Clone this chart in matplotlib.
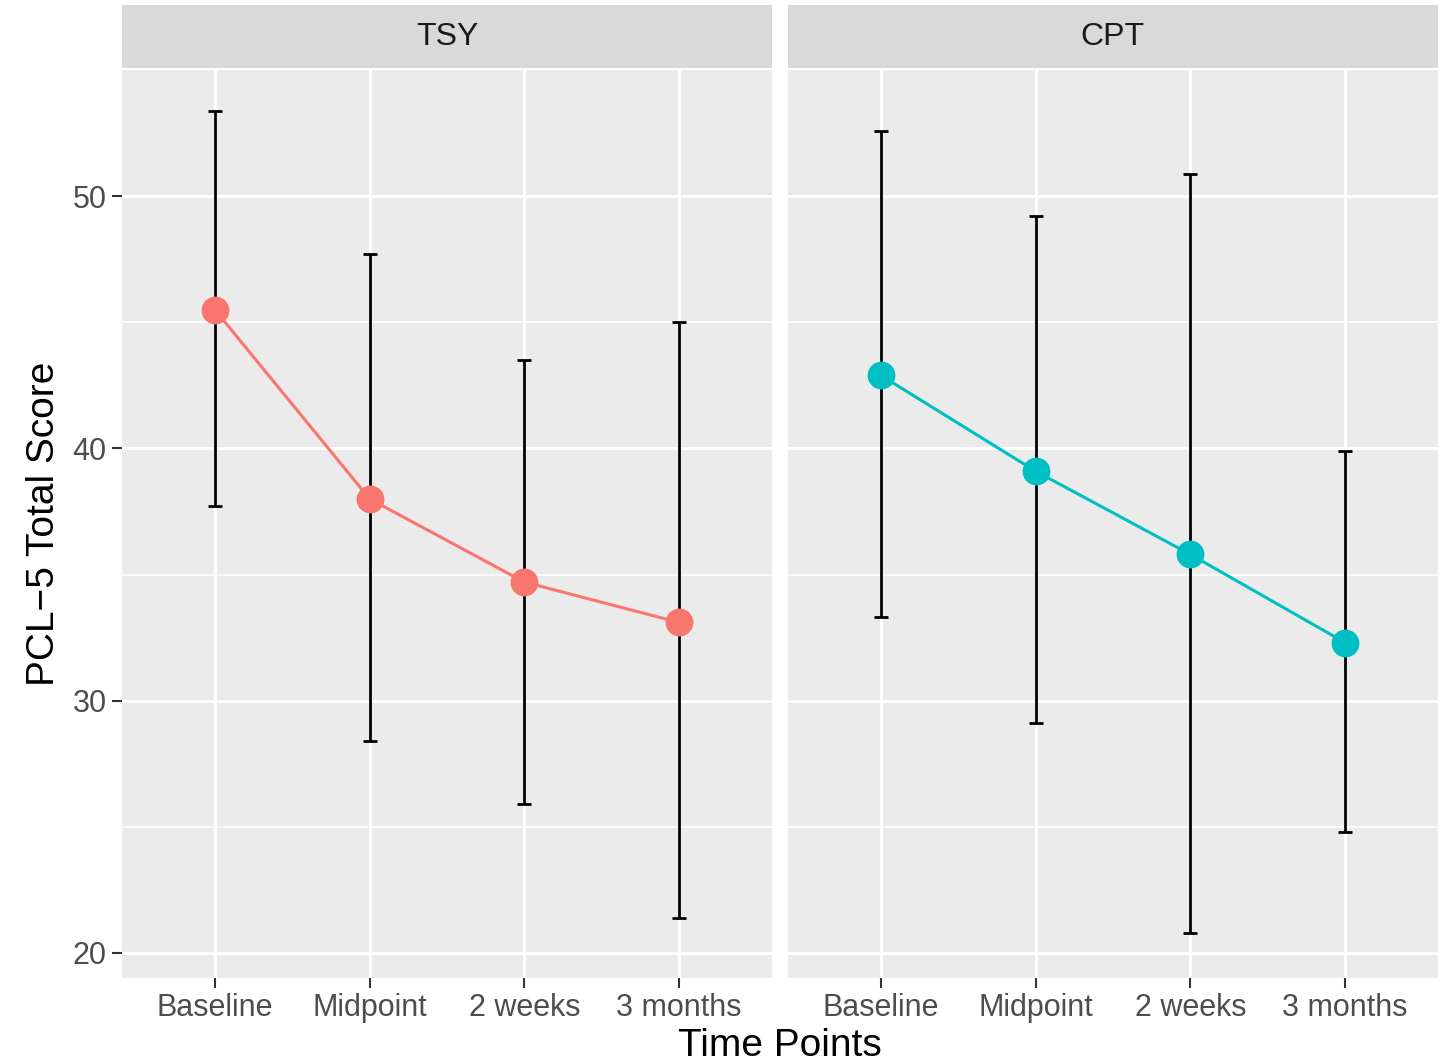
import matplotlib.pyplot as plt

plt.rcParams['font.family'] = ['Liberation Sans', 'DejaVu Sans']

# data
time_points = ['Baseline', 'Midpoint', '2 weeks', '3 months']
groups = ['TSY', 'CPT']
tsy_mean = [45.5, 38.0, 34.7, 33.1]
tsy_low = [37.7, 28.4, 25.9, 21.4]
tsy_high = [53.4, 47.7, 43.5, 45.0]
cpt_mean = [42.9, 39.1, 35.8, 32.3]
cpt_low = [33.3, 29.1, 20.8, 24.8]
cpt_high = [52.6, 49.2, 50.9, 39.9]
colors = ['#F8766D', '#00BFC4']

means = [tsy_mean, cpt_mean]
lows = [tsy_low, cpt_low]
highs = [tsy_high, cpt_high]

fig = plt.figure(figsize=(14.51, 10.64), dpi=100)

panel_left = [0.0841, 0.543]
panel_w = 0.448
bottom, top = 0.0808, 0.934

x = list(range(1, len(time_points) + 1))

for i, g in enumerate(groups):
    ax = fig.add_axes([panel_left[i], bottom, panel_w, top - bottom])
    ax.set_facecolor('#EBEBEB')
    for s in ax.spines.values():
        s.set_visible(False)
    ax.set_xlim(0.4, 4.6)
    ax.set_ylim(19.0, 55.0)
    ax.set_yticks([20, 30, 40, 50])
    ax.set_yticks([25, 35, 45], minor=True)
    ax.set_xticks(x)
    ax.set_xticklabels(time_points)
    ax.grid(which='major', color='white', linewidth=2.2)
    ax.grid(which='minor', axis='y', color='white', linewidth=1.1)
    ax.set_axisbelow(True)
    ax.tick_params(axis='both', which='major', length=7, width=1.5,
                   color='#333333', labelsize=22, labelcolor='#4D4D4D', pad=4)
    ax.tick_params(axis='y', which='minor', length=0)
    if i == 1:
        ax.tick_params(axis='y', which='both', left=False, labelleft=False)
    else:
        ax.set_ylabel('PCL\u22125 Total Score', fontsize=28, labelpad=8)

    m = means[i]
    yerr = [[m[k] - lows[i][k] for k in range(4)],
            [highs[i][k] - m[k] for k in range(4)]]
    ax.errorbar(x, m, yerr=yerr, fmt='none', ecolor='black',
                elinewidth=2.0, capsize=5, capthick=2.0, zorder=2)
    ax.plot(x, m, color=colors[i], linewidth=2.2, zorder=3)
    ax.plot(x, m, 'o', color=colors[i], markersize=19, zorder=4)

    # facet strip
    sax = fig.add_axes([panel_left[i], 0.936, panel_w, 0.0593])
    sax.set_facecolor('#D9D9D9')
    sax.set_xticks([])
    sax.set_yticks([])
    for s in sax.spines.values():
        s.set_visible(False)
    sax.text(0.5, 0.5, g, ha='center', va='center', fontsize=23,
             color='#1A1A1A', transform=sax.transAxes)

fig.text(0.5375, 0.0, 'Time Points', ha='center', va='bottom', fontsize=28)

fig.savefig('out.png', dpi=100)
